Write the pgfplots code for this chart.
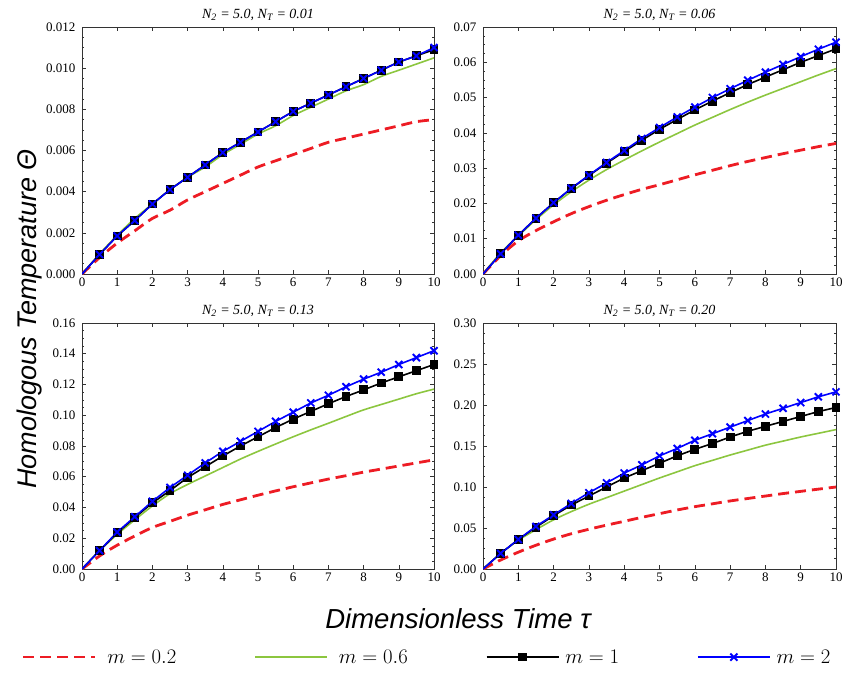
\documentclass[border=0pt]{standalone}
\usepackage{pgfplots}
\usepackage{pgfplotstable}
\usepackage{fontspec}
\pgfplotsset{compat=1.18}
\setmainfont{Liberation Serif}
\newfontfamily\arialfont{Liberation Sans}
\definecolor{cred}{RGB}{237,28,36}
\definecolor{cgreen}{RGB}{140,198,63}
\definecolor{cblue}{RGB}{0,0,255}

\pgfplotstableread{
x r g k b
0 0 0 0 0
0.5 0.0008 0.00098 0.00095 0.00095
1 0.0015 0.00188 0.00185 0.00185
1.5 0.0021 0.0027 0.0026 0.0026
2 0.0027 0.0034 0.0034 0.0034
2.5 0.0031 0.0041 0.0041 0.0041
3 0.0036 0.0047 0.0047 0.0047
3.5 0.0040 0.0052 0.0053 0.0053
4 0.0044 0.0058 0.0059 0.0059
4.5 0.0048 0.0063 0.0064 0.0064
5 0.0052 0.0068 0.0069 0.0069
5.5 0.0055 0.0072 0.0074 0.0074
6 0.0058 0.0077 0.0079 0.0079
6.5 0.0061 0.0081 0.0083 0.0083
7 0.0064 0.0085 0.0087 0.0087
7.5 0.0066 0.0089 0.0091 0.0091
8 0.0068 0.0092 0.0095 0.0095
8.5 0.0070 0.0096 0.0099 0.0099
9 0.0072 0.0099 0.0103 0.0103
9.5 0.0074 0.0102 0.0106 0.0106
10 0.0075 0.0105 0.0109 0.0110
}\dataA

\pgfplotstableread{
x r g k b
0 0 0 0 0
0.5 0.0052 0.0060 0.0057 0.0057
1 0.0094 0.0108 0.0110 0.0110
1.5 0.0123 0.0154 0.0158 0.0158
2 0.0148 0.0196 0.0202 0.0202
2.5 0.0171 0.0233 0.0242 0.0243
3 0.0191 0.0266 0.0279 0.0280
3.5 0.0209 0.0296 0.0314 0.0316
4 0.0225 0.0323 0.0347 0.0350
4.5 0.0240 0.0349 0.0379 0.0384
5 0.0253 0.0374 0.0410 0.0415
5.5 0.0267 0.0398 0.0438 0.0445
6 0.0281 0.0422 0.0465 0.0473
6.5 0.0294 0.0444 0.0490 0.0500
7 0.0307 0.0466 0.0514 0.0525
7.5 0.0319 0.0487 0.0537 0.0549
8 0.0330 0.0507 0.0558 0.0572
8.5 0.0341 0.0526 0.0579 0.0594
9 0.0351 0.0545 0.0600 0.0616
9.5 0.0361 0.0564 0.0619 0.0637
10 0.0370 0.0582 0.0638 0.0657
}\dataB

\pgfplotstableread{
x r g k b
0 0 0 0 0
0.5 0.0085 0.0120 0.0120 0.0120
1 0.0155 0.0225 0.0235 0.0240
1.5 0.0215 0.0320 0.0335 0.0340
2 0.0270 0.0410 0.0430 0.0440
2.5 0.0310 0.0490 0.0510 0.0530
3 0.0350 0.0550 0.0595 0.0610
3.5 0.0385 0.0605 0.0665 0.0690
4 0.0420 0.0660 0.0735 0.0765
4.5 0.0450 0.0715 0.0800 0.0830
5 0.0480 0.0765 0.0860 0.0895
5.5 0.0508 0.0813 0.0920 0.0960
6 0.0535 0.0860 0.0975 0.1020
6.5 0.0560 0.0905 0.1025 0.1080
7 0.0585 0.0948 0.1075 0.1130
7.5 0.0607 0.0992 0.1122 0.1185
8 0.0630 0.1035 0.1165 0.1235
8.5 0.0650 0.1070 0.1210 0.1280
9 0.0670 0.1105 0.1250 0.1330
9.5 0.0690 0.1140 0.1290 0.1375
10 0.0710 0.1170 0.1330 0.1420
}\dataC

\pgfplotstableread{
x r g k b
0 0 0 0 0
0.5 0.0110 0.0190 0.0190 0.0190
1 0.0205 0.0350 0.0360 0.0360
1.5 0.0290 0.0480 0.0510 0.0520
2 0.0365 0.0600 0.0650 0.0660
2.5 0.0430 0.0700 0.0780 0.0800
3 0.0485 0.0790 0.0890 0.0930
3.5 0.0535 0.0870 0.1000 0.1050
4 0.0582 0.0950 0.1110 0.1170
4.5 0.0630 0.1030 0.1200 0.1270
5 0.0675 0.1110 0.1290 0.1380
5.5 0.0720 0.1185 0.1380 0.1470
6 0.0760 0.1260 0.1460 0.1570
6.5 0.0795 0.1325 0.1530 0.1650
7 0.0830 0.1390 0.1610 0.1730
7.5 0.0860 0.1450 0.1680 0.1810
8 0.0890 0.1510 0.1740 0.1890
8.5 0.0920 0.1560 0.1800 0.1960
9 0.0947 0.1610 0.1860 0.2030
9.5 0.0974 0.1655 0.1920 0.2100
10 0.1000 0.1700 0.1970 0.2160
}\dataD

\pgfplotsset{
  panel/.style={
    scale only axis, xmin=0, xmax=10, ymin=0,
    xtick={0,1,2,3,4,5,6,7,8,9,10},
    tick align=inside, major tick length=4pt, minor tick length=2.2pt,
    minor y tick num=3,
    axis line style={black!80, line width=0.8pt},
    every tick/.style={black!80, line width=0.6pt},
    ticklabel style={font=\fontsize{13}{15}\selectfont},
    yticklabel style={xshift=-3pt},
    /pgf/number format/assume math mode=true,
    scaled y ticks=false,
    yticklabel={\pgfmathprintnumber[fixed,fixed zerofill,precision=\myprec]{\tick}},
    title style={font=\fontsize{14}{16}\selectfont\itshape, yshift=-3pt},
  },
  pr/.style={cred, line width=2.8pt, dash pattern=on 11pt off 6pt, smooth, no marks},
  pg/.style={cgreen, line width=1.6pt, smooth, no marks},
  pk/.style={black, line width=1.6pt, mark=square*, mark size=3.6pt, mark phase=2, mark options={solid}},
  pb/.style={cblue, line width=1.6pt, mark=x, mark size=5pt, mark phase=2, mark options={solid, line width=1.9pt}},
}

\begin{document}
\begin{tikzpicture}[x=1pt,y=1pt]
\useasboundingbox (0,0) rectangle (845,-675);

\def\myprec{3}
\begin{axis}[panel, at={(82pt,-274pt)}, anchor=south west, width=352pt, height=247pt,
  ymax=0.012, ytick={0,0.002,0.004,0.006,0.008,0.010,0.012},
  title={N\textsubscript{2} = 5.0, N\textsubscript{T} = 0.01}]
\addplot[pr] table[x=x,y=r]{\dataA};
\addplot[pg] table[x=x,y=g]{\dataA};
\addplot[pk] table[x=x,y=k]{\dataA};
\addplot[pb] table[x=x,y=b]{\dataA};
\end{axis}

\def\myprec{2}
\begin{axis}[panel, at={(483pt,-274pt)}, anchor=south west, width=353pt, height=247pt,
  ymax=0.07, ytick={0,0.01,0.02,0.03,0.04,0.05,0.06,0.07},
  title={N\textsubscript{2} = 5.0, N\textsubscript{T} = 0.06}]
\addplot[pr] table[x=x,y=r]{\dataB};
\addplot[pg] table[x=x,y=g]{\dataB};
\addplot[pk] table[x=x,y=k]{\dataB};
\addplot[pb] table[x=x,y=b]{\dataB};
\end{axis}

\begin{axis}[panel, at={(82pt,-569pt)}, anchor=south west, width=352pt, height=246pt,
  ymax=0.16, ytick={0,0.02,0.04,0.06,0.08,0.10,0.12,0.14,0.16},
  title={N\textsubscript{2} = 5.0, N\textsubscript{T} = 0.13}]
\addplot[pr] table[x=x,y=r]{\dataC};
\addplot[pg] table[x=x,y=g]{\dataC};
\addplot[pk] table[x=x,y=k]{\dataC};
\addplot[pb] table[x=x,y=b]{\dataC};
\end{axis}

\begin{axis}[panel, at={(483pt,-569pt)}, anchor=south west, width=353pt, height=246pt,
  ymax=0.30, ytick={0,0.05,0.10,0.15,0.20,0.25,0.30},
  title={N\textsubscript{2} = 5.0, N\textsubscript{T} = 0.20},
  legend columns=4,
  legend image code/.code={\draw[mark repeat=2,mark phase=2,#1] plot coordinates {(0pt,0pt) (36pt,0pt) (72pt,0pt)};},
  legend style={at={(-0.1586,-0.358)}, anchor=center, draw=none, fill=none,
    font=\fontsize{22}{26}\selectfont,
    /tikz/every even column/.append style={column sep=76pt}}]
\addplot[pr] table[x=x,y=r]{\dataD};
\addlegendentry{\hspace{9pt}$m = 0.2$}
\addplot[pg] table[x=x,y=g]{\dataD};
\addlegendentry{\hspace{9pt}$m = 0.6$}
\addplot[pk] table[x=x,y=k]{\dataD};
\addlegendentry{\hspace{4pt}$m = 1$}
\addplot[pb] table[x=x,y=b]{\dataD};
\addlegendentry{\hspace{4pt}$m = 2$}
\end{axis}

\node[rotate=90, font=\arialfont\itshape\fontsize{27}{31}\selectfont] at (30,-319) {Homologous Temperature Θ};
\node[font=\arialfont\itshape\fontsize{27.5}{31}\selectfont] at (458,-619) {Dimensionless Time τ};
\end{tikzpicture}
\end{document}
